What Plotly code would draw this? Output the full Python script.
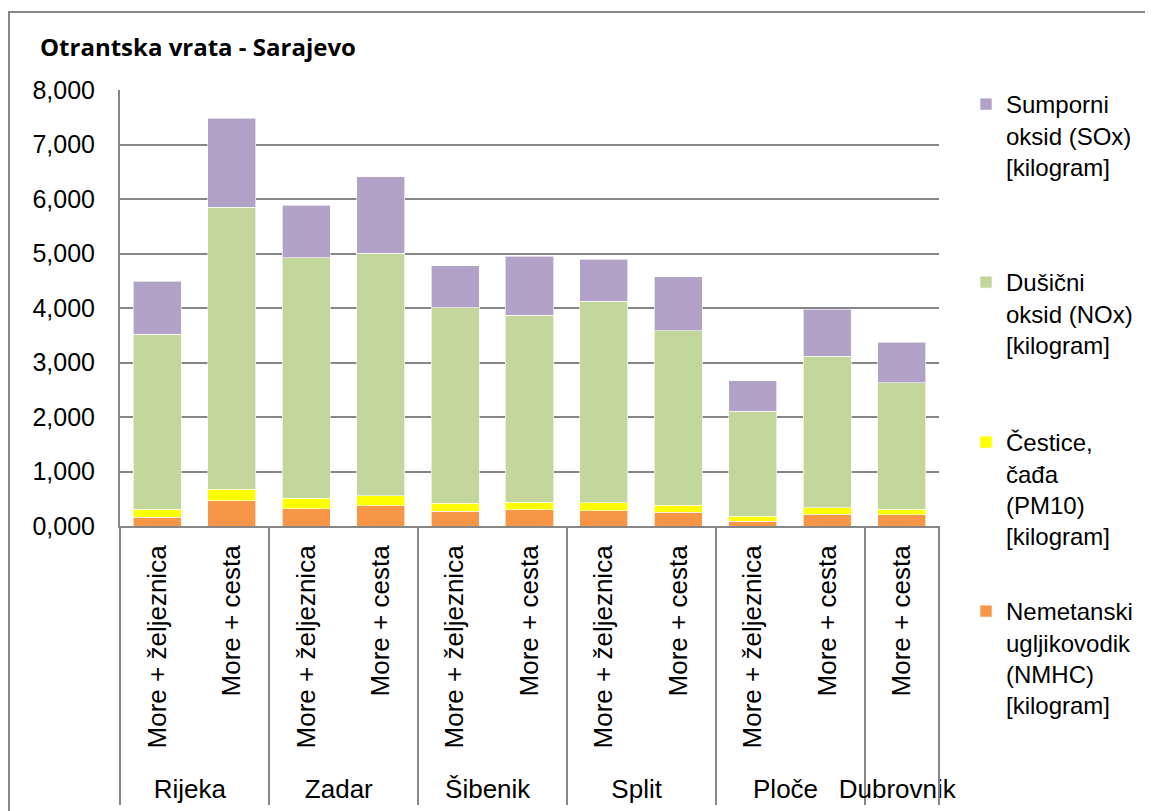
import plotly.graph_objects as go

# Otrantska vrata - Sarajevo: emisije po rutama (kilogram)
cities = ["Rijeka", "Rijeka", "Zadar", "Zadar", "Šibenik", "Šibenik",
          "Split", "Split", "Ploče", "Ploče", "Dubrovnik"]
modes = ["More + željeznica", "More + cesta", "More + željeznica", "More + cesta",
         "More + željeznica", "More + cesta", "More + željeznica", "More + cesta",
         "More + željeznica", "More + cesta", "More + cesta"]

nmhc = [0.165, 0.459, 0.318, 0.373, 0.275, 0.294, 0.281, 0.251, 0.086, 0.214, 0.207]
pm10 = [0.147, 0.214, 0.190, 0.183, 0.147, 0.146, 0.147, 0.134, 0.092, 0.122, 0.105]
nox = [3.211, 5.175, 4.415, 4.453, 3.584, 3.426, 3.695, 3.199, 1.932, 2.783, 2.312]
sox = [0.967, 1.633, 0.967, 1.395, 0.765, 1.082, 0.770, 0.991, 0.551, 0.857, 0.747]

y_ticks = [0, 1, 2, 3, 4, 5, 6, 7, 8]

FONT = "Liberation Sans, Arial, sans-serif"
GREY = "#868686"

# the page puts the figure 8px in from the corner (body margin)
OFF = 8
W, H = 1153, 811
# plot area as seen on the page
L, R, T, B = 120, 939, 90, 526


def px_x(x):
    return (x - L) / (R - L)


def px_y(y):
    return (B - y) / (B - T)


series = [
    ("Nemetanski<br>ugljikovodik<br>(NMHC)<br>[kilogram]", nmhc, "#F79646", "legend4", 589),
    ("Čestice,<br>čađa<br>(PM10)<br>[kilogram]", pm10, "#FFFF00", "legend3", 420),
    ("Dušični<br>oksid (NOx)<br>[kilogram]", nox, "#C3D69B", "legend2", 260),
    ("Sumporni<br>oksid (SOx)<br>[kilogram]", sox, "#B2A2C7", "legend", 82),
]

# a leading no-break space lengthens the rotated labels at their far end,
# pushing the city row down a little without moving the visible text
pad = "\u00a0"
x_cats = [cities, [pad + m for m in modes]]

fig = go.Figure()
for name, vals, color, leg, _ in series:
    fig.add_trace(go.Bar(
        x=x_cats, y=vals, name=name, legend=leg,
        marker=dict(color=color, line=dict(color="rgba(255,255,255,0.6)", width=1)),
    ))

legend_style = dict(font=dict(family=FONT, size=24, color="#000000"),
                    bgcolor="rgba(0,0,0,0)", valign="top", xanchor="left",
                    yanchor="top", x=px_x(966))
layout_legends = {}
for name, vals, color, leg, top in series:
    layout_legends[leg] = dict(legend_style, y=px_y(top))

fig.update_layout(
    barmode="stack",
    bargap=0.355,
    width=W, height=H,
    margin=dict(l=L - OFF, r=W - (R - OFF), t=T - OFF, b=H - (B - OFF), autoexpand=False),
    paper_bgcolor="white", plot_bgcolor="white",
    separators=",.",
    showlegend=True,
    font=dict(family=FONT, size=24, color="#000000"),
    title=dict(text="<b>Otrantska vrata - Sarajevo</b>",
               font=dict(family="Open Sans, sans-serif", size=24, color="#000000"),
               xref="container", yref="container", x=(40 - OFF) / W, xanchor="left",
               y=1 - (48 - OFF) / H, yanchor="middle"),
    **layout_legends,
)

fig.update_yaxes(
    range=[0, 8], tickvals=y_ticks, tickformat=".3f",
    showgrid=True, gridcolor=GREY, gridwidth=1.5,
    showline=True, linecolor=GREY, linewidth=2,
    zeroline=False, ticks="", ticklabelstandoff=18,
    tickfont=dict(family=FONT, size=25, color="#000000"),
)
fig.update_xaxes(
    type="multicategory", tickangle=-90,
    showline=True, linecolor=GREY, linewidth=2,
    showdividers=True, dividercolor=GREY, dividerwidth=2,
    ticks="", ticklabelstandoff=7,
    tickfont=dict(family=FONT, size=26, color="#000000"),
)

# outer chart frame
fig.add_shape(type="rect", xref="paper", yref="paper",
              x0=px_x(9), x1=px_x(1170), y0=px_y(830), y1=px_y(12),
              line=dict(color=GREY, width=2), fillcolor="rgba(0,0,0,0)", layer="below")
# closing divider at the right end of the category axis
fig.add_shape(type="line", xref="paper", yref="paper",
              x0=1, x1=1, y0=0, y1=px_y(800),
              line=dict(color=GREY, width=2))

fig.write_html("out.html")
